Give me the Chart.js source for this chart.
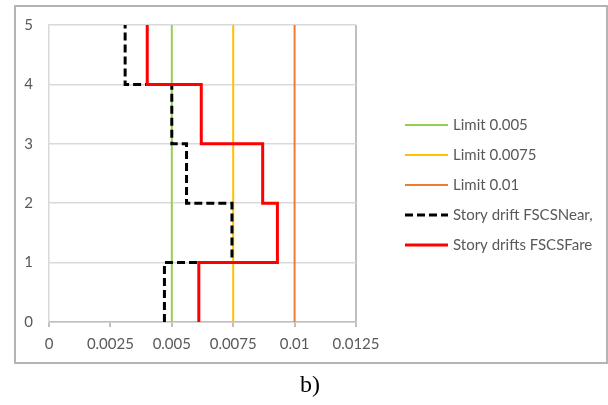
<!DOCTYPE html>
<html>
<head>
<meta charset="utf-8">
<script src="https://cdn.jsdelivr.net/npm/chart.js@4"></script>
<style>
  body { margin: 0; background: #fff; }
  #wrap { position: relative; width: 608px; height: 405px; }
  #frame { position: absolute; left: 14px; top: 5px; width: 590px; height: 355px; border: 2px solid #b4b4b4; }
  #chart { position: absolute; left: 0; top: 0; }
  #caption { position: absolute; left: 300px; top: 371px; font: 24px "Liberation Serif", "Times New Roman", serif; color: #000; }
</style>
</head>
<body>
<div id="wrap">
  <div id="frame"></div>
  <canvas id="chart" width="608" height="405"></canvas>
  <div id="caption">b)</div>
</div>
<script>
// story levels (floor 0 .. roof 5)
const stories = [0, 1, 2, 3, 4, 5];
// drift of each story, story 1 .. story 5
const driftNear = [0.0047, 0.00745, 0.0056, 0.005, 0.0031];
const driftFare = [0.0061, 0.0093, 0.0087, 0.0062, 0.0040];
const limitValues = [0.005, 0.0075, 0.01];
const limitLabels = ['Limit 0.005', 'Limit 0.0075', 'Limit 0.01'];
const limitColors = ['#92D050', '#FFC000', '#ED7D31'];
const xTickValues = [0, 0.0025, 0.005, 0.0075, 0.01, 0.0125];
const yTickValues = [0, 1, 2, 3, 4, 5];

// each story drift is a vertical piece between two levels
function stepPoints(drifts) {
    const pts = [];
    drifts.forEach((d, i) => {
        pts.push({ x: d, y: stories[i] });
        pts.push({ x: d, y: stories[i + 1] });
    });
    return pts;
}

const datasets = limitValues.map((v, i) => ({
    label: limitLabels[i],
    data: [{ x: v, y: stories[0] }, { x: v, y: stories[stories.length - 1] }],
    borderColor: limitColors[i],
    borderWidth: 2,
    order: 5 - i
}));
datasets.push({
    label: 'Story drift FSCSNear,',
    data: stepPoints(driftNear),
    borderColor: '#000000',
    borderWidth: 3,
    borderDash: [8, 4],
    order: 2
});
datasets.push({
    label: 'Story drifts FSCSFare',
    data: stepPoints(driftFare),
    borderColor: '#FF0000',
    borderWidth: 3,
    order: 1
});

// legend drawn at the right side, like the spreadsheet one
const sideLegend = {
    id: 'sideLegend',
    afterDraw(chart) {
        const ctx = chart.ctx;
        ctx.save();
        chart.data.datasets.forEach((ds, i) => {
            const y = 125 + i * 30;
            ctx.beginPath();
            ctx.strokeStyle = ds.borderColor;
            ctx.lineWidth = ds.borderWidth;
            ctx.setLineDash(ds.borderDash || []);
            ctx.moveTo(405, y);
            ctx.lineTo(448, y);
            ctx.stroke();
            ctx.setLineDash([]);
            ctx.fillStyle = '#595959';
            ctx.font = '15px Lato';
            ctx.textBaseline = 'middle';
            ctx.textAlign = 'left';
            ctx.fillText(ds.label, 453, y);
        });
        ctx.restore();
    }
};

Chart.defaults.font.family = 'Lato';
Chart.defaults.font.size = 15;
Chart.defaults.color = '#595959';

new Chart(document.getElementById('chart'), {
    type: 'scatter',
    data: { datasets: datasets },
    options: {
        responsive: false,
        animation: false,
        showLine: true,
        elements: {
            point: { radius: 0, hoverRadius: 0 },
            line: { tension: 0, fill: false }
        },
        layout: { padding: { top: 25, right: 252, bottom: 0, left: 0 } },
        scales: {
            x: {
                type: 'linear',
                min: 0,
                max: 0.0125,
                afterBuildTicks: (scale) => { scale.ticks = xTickValues.map(v => ({ value: v })); },
                afterFit: (scale) => { scale.height = 83; },
                ticks: {
                    padding: 8,
                    callback: (v) => String(+Number(v).toFixed(4))
                },
                grid: {
                    color: (c) => (c.tick && c.tick.value === 0.0125) ? '#bfbfbf' : 'rgba(0,0,0,0)',
                    lineWidth: 2,
                    tickColor: '#bfbfbf',
                    tickLength: 5
                },
                border: { color: '#bfbfbf', width: 1.5 }
            },
            y: {
                min: 0,
                max: 5,
                afterBuildTicks: (scale) => { scale.ticks = yTickValues.map(v => ({ value: v })); },
                afterFit: (scale) => { scale.width = 49; },
                ticks: { padding: 16 },
                grid: { color: '#d9d9d9', lineWidth: 1.5, drawTicks: false },
                border: { color: '#d9d9d9', width: 1.5 }
            }
        },
        plugins: {
            legend: { display: false },
            tooltip: { enabled: false }
        }
    },
    plugins: [sideLegend]
});
</script>
</body>
</html>
